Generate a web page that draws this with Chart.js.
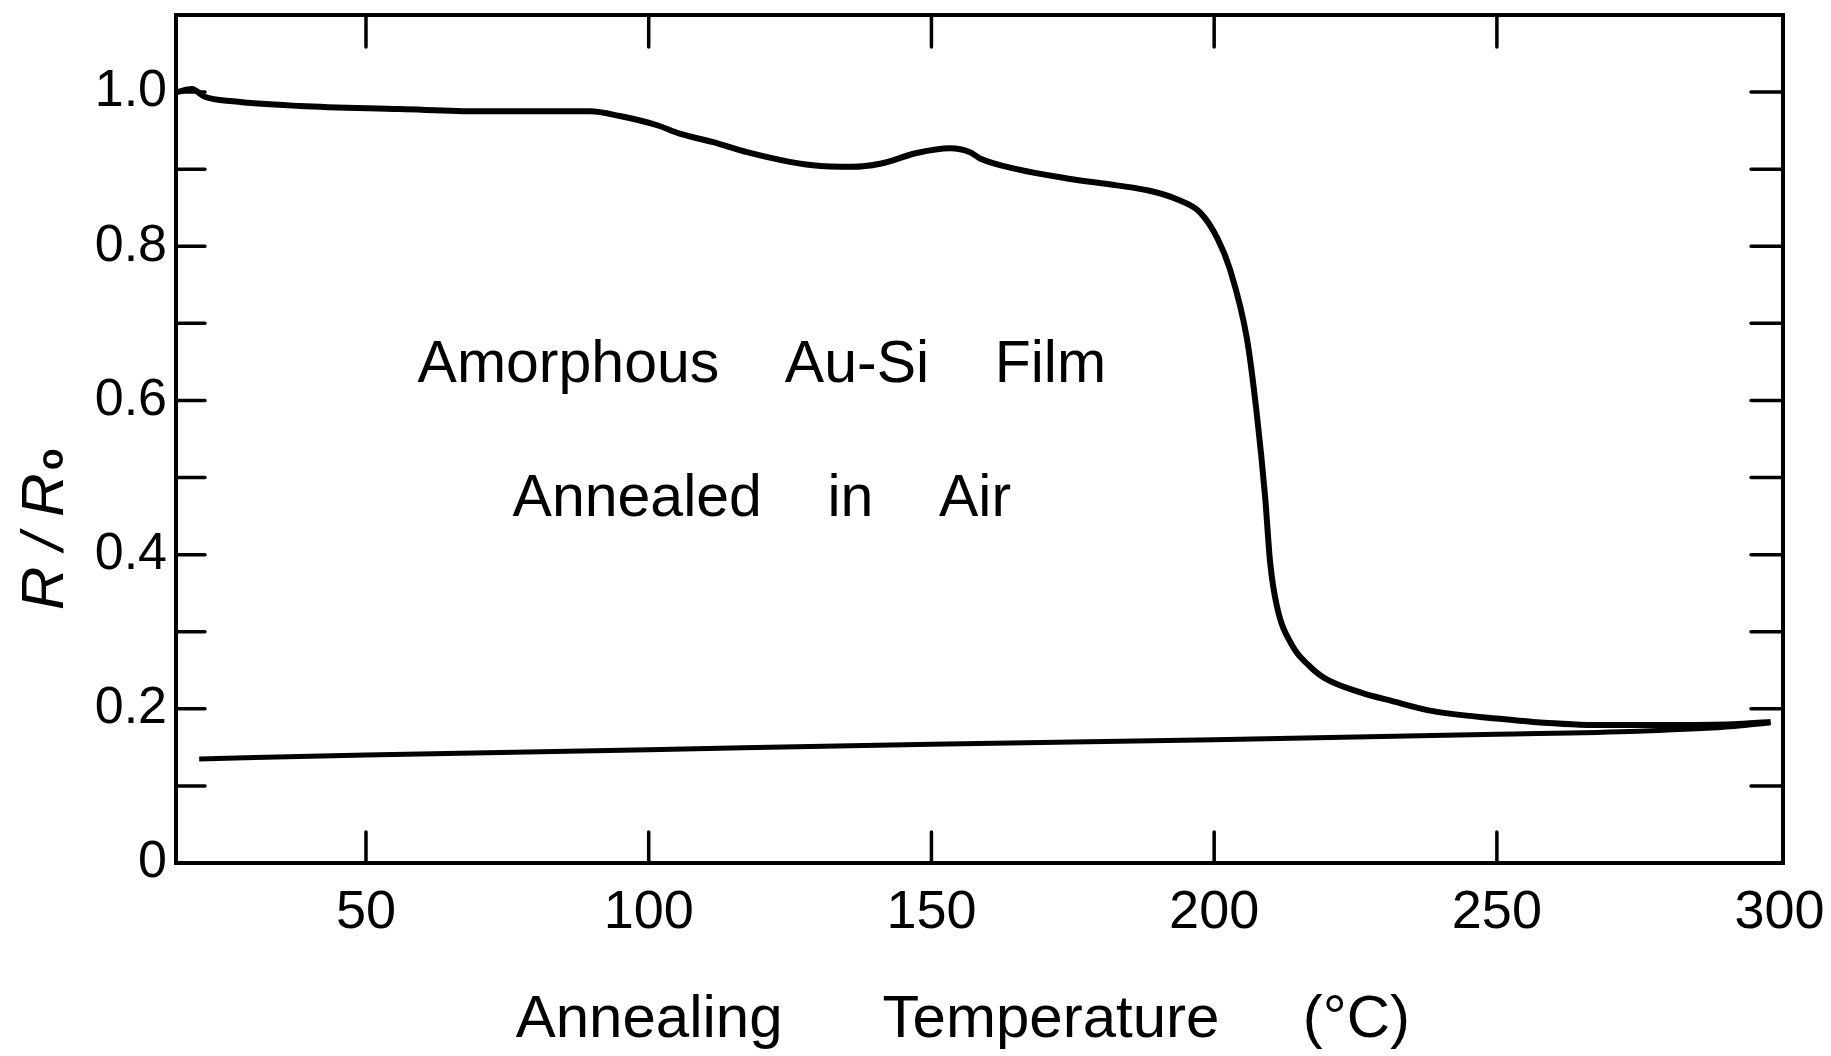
<!DOCTYPE html>
<html>
<head>
<meta charset="utf-8">
<script src="https://cdn.jsdelivr.net/npm/chart.js@4.4.1/dist/chart.umd.min.js"></script>
<style>
  html, body { margin: 0; padding: 0; background: #fff; }
  #wrap { width: 1831px; height: 1056px; }
</style>
</head>
<body>
<div id="wrap"><canvas id="rr_chart" width="1831" height="1056"></canvas></div>
<script>
// heating run: R/Ro vs annealing temperature
var temp_up = [16.6, 19.2, 21.5, 26.5, 38.3, 56, 70, 79, 89.6, 94.9, 101.5, 105.5, 111.4, 117.4, 123.2, 129, 136,
	140.9, 147.4, 153.3, 156.8, 158.6, 165.1, 174, 182.8, 188.6, 193.4, 197.5, 200.6, 202.8, 205.8, 207.5, 209,
	209.9, 211.1, 213.9, 216.5, 219.5, 226, 231.5, 238.7, 250.5, 256.4, 268.2, 280, 291.7, 298.4];
var ratio_up = [1.000, 1.004, 0.994, 0.988, 0.982, 0.978, 0.975, 0.975, 0.975, 0.969, 0.957, 0.946, 0.935, 0.922, 0.912, 0.905, 0.903,
	0.907, 0.921, 0.927, 0.922, 0.914, 0.900, 0.888, 0.879, 0.872, 0.861, 0.844, 0.810, 0.770, 0.680, 0.585, 0.476,
	0.390, 0.333, 0.281, 0.258, 0.240, 0.221, 0.210, 0.197, 0.187, 0.183, 0.179, 0.179, 0.180, 0.183];

// after annealing (cooled back)
var temp_down = [20.5, 50, 100, 150, 200, 250, 275, 292, 298.4];
var ratio_down = [0.135, 0.140, 0.147, 0.154, 0.160, 0.167, 0.171, 0.177, 0.182];

var x_ticks = [50, 100, 150, 200, 250, 300];
var y_ticks = [0, 0.2, 0.4, 0.6, 0.8, 1.0];
var y_tick_labels = ['0', '0.2', '0.4', '0.6', '0.8', '1.0'];
var y_minor = [0.1, 0.2, 0.3, 0.4, 0.5, 0.6, 0.7, 0.8, 0.9, 1.0];

var font_name = "'Liberation Sans', Arial, sans-serif";

function to_points(xs, ys){
	var out = [];
	for (var i = 0; i < xs.length; i++) {
		out.push({x: xs[i], y: ys[i]});
	}
	return out;
}

// box, inward ticks, y title and the inset text
var frame_plugin = {
	id: 'frame',
	afterDraw: function(chart){
		var ctx = chart.ctx;
		var a = chart.chartArea;
		var xs = chart.scales.x;
		var ys = chart.scales.y;
		ctx.save();
		ctx.strokeStyle = '#000';
		ctx.lineCap = 'round';
		ctx.lineWidth = 4;
		ctx.strokeRect(a.left, a.top, a.right - a.left, a.bottom - a.top);

		ctx.lineWidth = 3.5;
		ctx.beginPath();
		x_ticks.forEach(function(v){
			if (v >= xs.max - 1) return; // 300 sits on the right edge
			var px = xs.getPixelForValue(v);
			ctx.moveTo(px, a.bottom);
			ctx.lineTo(px, a.bottom - 31);
			ctx.moveTo(px, a.top);
			ctx.lineTo(px, a.top + 32);
		});
		y_minor.forEach(function(v){
			var py = ys.getPixelForValue(v);
			ctx.moveTo(a.left, py);
			ctx.lineTo(a.left + 29, py);
			ctx.moveTo(a.right, py);
			ctx.lineTo(a.right - 32, py);
		});
		ctx.stroke();

		// y axis title  R / Ro
		ctx.fillStyle = '#000';
		ctx.translate(63, 610);
		ctx.rotate(-Math.PI / 2);
		ctx.textAlign = 'left';
		ctx.textBaseline = 'alphabetic';
		ctx.font = 'italic 60px ' + font_name;
		var main = 'R / R';
		ctx.fillText(main, 0, 0);
		var w = ctx.measureText(main).width;
		ctx.font = 'bold 36px ' + font_name;
		ctx.fillText('o', w + 3, 0);
		ctx.restore();

		// inset text
		ctx.save();
		ctx.fillStyle = '#000';
		ctx.font = '59px ' + font_name;
		ctx.textAlign = 'center';
		ctx.textBaseline = 'alphabetic';
		var cx = xs.getPixelForValue(120);
		ctx.fillText('Amorphous    Au-Si    Film', cx, ys.getPixelForValue(0.624));
		ctx.fillText('Annealed    in    Air', cx, ys.getPixelForValue(0.45));
		ctx.restore();
	}
};

function load_rr_chart(){
	var ctx = document.getElementById('rr_chart');

	var rr_data = {
		datasets: [{
			label: 'heating',
			data: to_points(temp_up, ratio_up),
			borderColor: '#000',
			borderWidth: 6,
			pointRadius: 0,
			cubicInterpolationMode: 'monotone',
			fill: false
		}, {
			label: 'after anneal',
			data: to_points(temp_down, ratio_down),
			borderColor: '#000',
			borderWidth: 5,
			pointRadius: 0,
			cubicInterpolationMode: 'monotone',
			fill: false
		}]
	};

	var rr_options = {
		responsive: false,
		animation: false,
		layout: { padding: { top: 15, right: 48, left: 0, bottom: 0 } },
		plugins: {
			legend: { display: false },
			tooltip: { enabled: false },
			title: { display: false }
		},
		scales: {
			x: {
				type: 'linear',
				min: 16.4,
				max: 300.6,
				grid: { display: false, drawTicks: false },
				border: { display: false },
				afterBuildTicks: function(scale){
					scale.ticks = x_ticks.map(function(v){ return {value: v}; });
				},
				afterFit: function(scale){
					scale.height = 193;
					scale.paddingLeft = 0;
					scale.paddingRight = 0;
				},
				ticks: {
					padding: 18,
					color: '#000',
					maxRotation: 0,
					font: { family: font_name, size: 54 },
					callback: function(v){ return String(v); }
				},
				title: {
					display: true,
					text: 'Annealing      Temperature     (°C)  ',
					color: '#000',
					font: { family: font_name, size: 60 },
					padding: { top: 0, bottom: 0 }
				}
			},
			y: {
				type: 'linear',
				min: 0,
				max: 1.1,
				grid: { display: false, drawTicks: false },
				border: { display: false },
				afterBuildTicks: function(scale){
					scale.ticks = y_ticks.map(function(v){ return {value: v}; });
				},
				afterFit: function(scale){
					scale.width = 176;
					scale.paddingTop = 0;
					scale.paddingBottom = 0;
				},
				ticks: {
					padding: 9,
					color: '#000',
					font: { family: font_name, size: 52 },
					callback: function(v){
						var i = y_ticks.indexOf(v);
						return i >= 0 ? y_tick_labels[i] : '';
					}
				}
			}
		}
	};

	var chart = new Chart(ctx, {
		type: 'line',
		data: rr_data,
		options: rr_options,
		plugins: [frame_plugin]
	});
}
load_rr_chart();
</script>
</body>
</html>
